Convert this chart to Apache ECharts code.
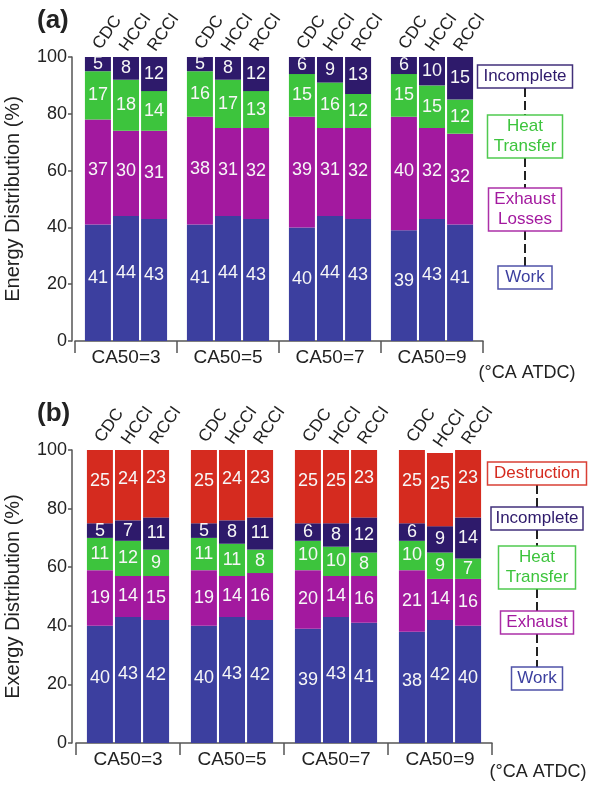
<!DOCTYPE html>
<html>
<head>
<meta charset="utf-8">
<script src="https://cdn.jsdelivr.net/npm/echarts@6/dist/echarts.min.js"></script>
<style>
  html, body { margin: 0; padding: 0; background: #fff; }
  #chart { width: 595px; height: 785px; }
</style>
</head>
<body>
<div id="chart"></div>
<script>
// Combustion-phasing sweep (CA50, deg CA ATDC) and the three combustion modes
const ca50Labels = ['CA50=3', 'CA50=5', 'CA50=7', 'CA50=9'];
const modes = ['CDC', 'HCCI', 'RCCI'];

// (a) Energy distribution (%) — rows: CDC, HCCI, RCCI; columns: CA50 = 3, 5, 7, 9
const energyWork       = [[41, 41, 40, 39], [44, 44, 44, 43], [43, 43, 43, 41]];
const energyExhaust    = [[37, 38, 39, 40], [30, 31, 31, 32], [31, 32, 32, 32]];
const energyHeat       = [[17, 16, 15, 15], [18, 17, 16, 15], [14, 13, 12, 12]];
const energyIncomplete = [[5, 5, 6, 6],     [8, 8, 9, 10],    [12, 12, 13, 15]];

// (b) Exergy distribution (%) — same row/column order
const exergyWork        = [[40, 40, 39, 38], [43, 43, 43, 42], [42, 42, 41, 40]];
const exergyExhaust     = [[19, 19, 20, 21], [14, 14, 14, 14], [15, 16, 16, 16]];
const exergyHeat        = [[11, 11, 10, 10], [12, 11, 10, 9],  [9, 8, 8, 7]];
const exergyIncomplete  = [[5, 5, 6, 6],     [7, 8, 8, 9],     [11, 11, 12, 14]];
const exergyDestruction = [[25, 25, 25, 25], [24, 24, 25, 25], [23, 23, 23, 23]];

const FONT = 'Liberation Sans, Arial, Helvetica, sans-serif';
const INK = '#222';
const AXIS = '#555';
const C = {
  work: '#3c3f9f',
  exhaust: '#a3199f',
  heat: '#3dc43d',
  incomplete: '#2e1a6b',
  destruction: '#d52b1f'
};

// Stacked bars: one stack per combustion mode inside each CA50 category
function panelSeries(axisIndex, layers) {
  const out = [];
  modes.forEach((mode, m) => {
    const stack = 'p' + axisIndex + '_' + mode;
    layers.forEach(layer => {
      out.push({
        type: 'bar',
        name: layer.name,
        xAxisIndex: axisIndex,
        yAxisIndex: axisIndex,
        stack: stack,
        data: layer.values[m],
        barWidth: 26,
        barGap: '8%',
        itemStyle: { color: layer.color },
        label: {
          show: true,
          position: 'inside',
          color: '#f7f7f7',
          fontSize: 18,
          fontFamily: FONT,
          offset: [0, layer.dy || 0]
        }
      });
    });
    // zero-height cap carrying the rotated mode name above each stack
    out.push({
      type: 'bar',
      name: mode,
      xAxisIndex: axisIndex,
      yAxisIndex: axisIndex,
      stack: stack,
      data: ca50Labels.map(() => 0),
      barWidth: 26,
      barGap: '8%',
      itemStyle: { color: 'transparent' },
      label: {
        show: true,
        position: 'top',
        distance: 25,
        rotate: 55,
        align: 'center',
        verticalAlign: 'middle',
        offset: [5, 8],
        formatter: () => mode,
        color: INK,
        fontSize: 17,
        fontFamily: FONT
      }
    });
  });
  return out;
}

const series = [].concat(
  panelSeries(0, [
    { name: 'Work', values: energyWork, color: C.work, dy: -5 },
    { name: 'Exhaust Losses', values: energyExhaust, color: C.exhaust, dy: -2 },
    { name: 'Heat Transfer', values: energyHeat, color: C.heat },
    { name: 'Incomplete', values: energyIncomplete, color: C.incomplete }
  ]),
  panelSeries(1, [
    { name: 'Work', values: exergyWork, color: C.work, dy: -6 },
    { name: 'Exhaust', values: exergyExhaust, color: C.exhaust },
    { name: 'Heat Transfer', values: exergyHeat, color: C.heat },
    { name: 'Incomplete', values: exergyIncomplete, color: C.incomplete },
    { name: 'Destruction', values: exergyDestruction, color: C.destruction, dy: -6 }
  ])
);

function xAxisFor(gridIndex) {
  return {
    gridIndex: gridIndex,
    type: 'category',
    data: ca50Labels,
    axisLine: { show: true, lineStyle: { color: AXIS, width: 1.5 } },
    axisTick: { show: true, length: 12, lineStyle: { color: AXIS, width: 1.5 } },
    axisLabel: { color: INK, fontSize: 19, fontFamily: FONT, margin: 7 }
  };
}

function yAxisFor(gridIndex, name, offset) {
  return {
    gridIndex: gridIndex,
    type: 'value',
    min: 0,
    max: 100,
    interval: 20,
    offset: offset,
    name: name,
    nameLocation: 'middle',
    nameGap: 49,
    nameTextStyle: { color: INK, fontSize: 20, fontFamily: FONT },
    axisLine: { show: true, lineStyle: { color: AXIS, width: 1.5 } },
    axisTick: { show: true, length: 4, lineStyle: { color: AXIS, width: 1.5 } },
    splitLine: { show: false },
    axisLabel: { color: INK, fontSize: 18, fontFamily: FONT, margin: 5 }
  };
}

// Boxed legend entries joined by a dashed spine
function legendChain(cx, entries) {
  const els = [];
  for (let i = 0; i < entries.length - 1; i++) {
    const a = entries[i], b = entries[i + 1];
    els.push({
      type: 'line',
      shape: { x1: cx, y1: a.y + a.h, x2: cx, y2: b.y },
      style: { stroke: INK, lineWidth: 2, lineDash: [9, 4] },
      silent: true
    });
  }
  entries.forEach(e => {
    els.push({
      type: 'rect',
      shape: { x: cx - e.w / 2, y: e.y, width: e.w, height: e.h },
      style: { fill: '#fff', stroke: e.color, lineWidth: 1.5, opacity: 0.9 },
      silent: true
    });
    els.push({
      type: 'text',
      x: cx,
      y: e.y + e.h / 2,
      style: {
        text: e.text,
        fill: e.color,
        font: '17px ' + FONT,
        align: 'center',
        verticalAlign: 'middle',
        textAlign: 'center',
        textVerticalAlign: 'middle',
        lineHeight: 20
      },
      silent: true
    });
  });
  return els;
}

function plainText(x, y, text, font, align) {
  return {
    type: 'text',
    x: x,
    y: y,
    style: {
      text: text, fill: INK, font: font,
      align: align, verticalAlign: 'middle',
      textAlign: align, textVerticalAlign: 'middle'
    },
    silent: true
  };
}

const graphics = [].concat(
  [
    plainText(37, 21, '(a)', 'bold 26px ' + FONT, 'left'),
    plainText(37, 414, '(b)', 'bold 26px ' + FONT, 'left'),
    plainText(527, 373, '(°CA ATDC)', '18px ' + FONT, 'center'),
    plainText(538, 772, '(°CA ATDC)', '18px ' + FONT, 'center')
  ],
  legendChain(525, [
    { text: 'Incomplete', y: 65, h: 23, w: 95, color: C.incomplete },
    { text: 'Heat\nTransfer', y: 115, h: 43, w: 75, color: C.heat },
    { text: 'Exhaust\nLosses', y: 188, h: 43, w: 73, color: C.exhaust },
    { text: 'Work', y: 266, h: 23, w: 54, color: C.work }
  ]),
  legendChain(537, [
    { text: 'Destruction', y: 462, h: 23, w: 99, color: C.destruction },
    { text: 'Incomplete', y: 507, h: 23, w: 92, color: C.incomplete },
    { text: 'Heat\nTransfer', y: 546, h: 43, w: 77, color: C.heat },
    { text: 'Exhaust', y: 611, h: 23, w: 73, color: C.exhaust },
    { text: 'Work', y: 667, h: 23, w: 51, color: C.work }
  ])
);

const chart = echarts.init(document.getElementById('chart'), null, { renderer: 'canvas' });
chart.setOption({
  animation: false,
  backgroundColor: '#fff',
  textStyle: { fontFamily: FONT },
  grid: [
    { left: 75, top: 57, width: 408, height: 284, outerBoundsMode: 'none' },
    { left: 76, top: 450, width: 416, height: 293, outerBoundsMode: 'none' }
  ],
  xAxis: [xAxisFor(0), xAxisFor(1)],
  yAxis: [
    yAxisFor(0, 'Energy Distribution (%)', 3),
    yAxisFor(1, 'Exergy Distribution (%)', 4)
  ],
  series: series,
  graphic: graphics
});
</script>
</body>
</html>
